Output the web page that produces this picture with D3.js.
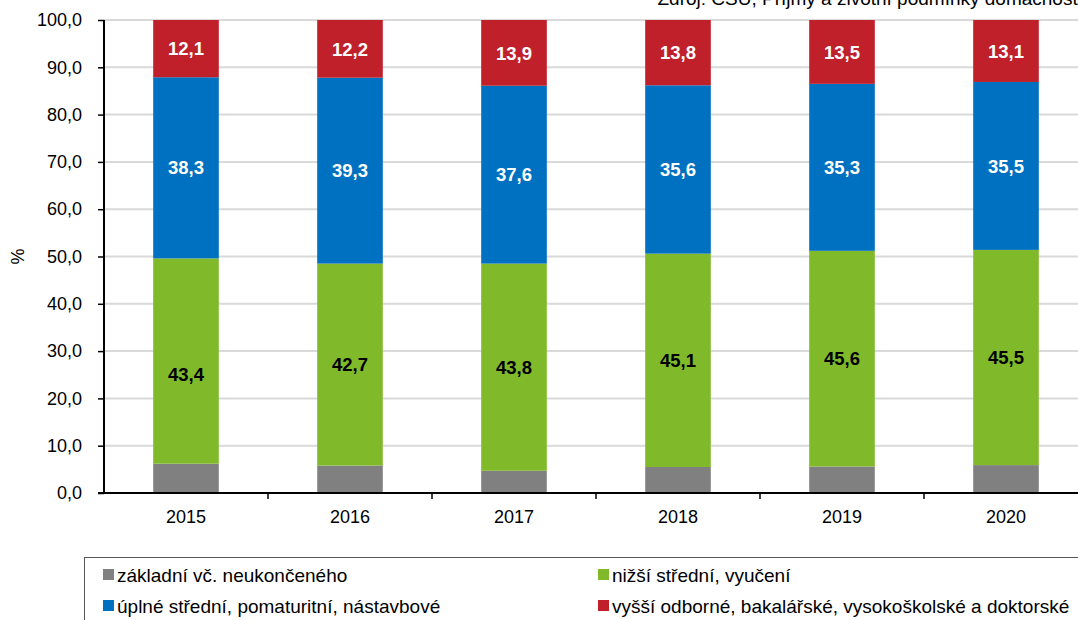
<!DOCTYPE html>
<html>
<head>
<meta charset="utf-8">
<script src="https://cdn.jsdelivr.net/npm/d3@7"></script>
<style>
  body { margin: 0; background: #fff; overflow: hidden; }
  text { font-family: "Liberation Sans", Arial, sans-serif; }
</style>
</head>
<body>
<div id="chart"></div>
<script>
var years = ["2015", "2016", "2017", "2018", "2019", "2020"];
var zakladni = [6.2, 5.8, 4.7, 5.5, 5.6, 5.9];
var nizsi = [43.4, 42.7, 43.8, 45.1, 45.6, 45.5];
var uplne = [38.3, 39.3, 37.6, 35.6, 35.3, 35.5];
var vyssi = [12.1, 12.2, 13.9, 13.8, 13.5, 13.1];
var seriesNames = ["základní vč. neukončeného", "nižší střední, vyučení",
  "úplné střední, pomaturitní, nástavbové", "vyšší odborné, bakalářské, vysokoškolské a doktorské"];
var yTicks = [0, 10, 20, 30, 40, 50, 60, 70, 80, 90, 100];

var width = 1078, height = 620,
    margin = {top: 20, left: 104, right: -10, bottom: 127};

var colors = ["#808080", "#80ba2a", "#0070c0", "#c0202a"];
var labelColors = [null, "#000", "#fff", "#fff"];
// label for 2015 green segment sits a bit lower in the original
var labelNudge = {"1-2015": 13};

var svg = d3.select("#chart").append("svg")
  .attr("width", width)
  .attr("height", height);

var x = d3.scaleBand()
  .domain(years)
  .range([margin.left, width - margin.right])
  .paddingInner(0.6)
  .paddingOuter(0.3);

var y = d3.scaleLinear()
  .domain([0, 100])
  .range([height - margin.bottom, margin.top]);

// gridlines
svg.append("g")
  .selectAll("line")
  .data(yTicks.slice(1))
  .enter().append("line")
  .attr("x1", margin.left)
  .attr("x2", width - margin.right)
  .attr("y1", d => y(d))
  .attr("y2", d => y(d))
  .style("stroke", "#d9d9d9")
  .style("stroke-width", 2);

// stacked data
var table = years.map(function(yr, i) {
  return {year: yr, s0: zakladni[i], s1: nizsi[i], s2: uplne[i], s3: vyssi[i]};
});
var stack = d3.stack().keys(["s0", "s1", "s2", "s3"])(table);

var layers = svg.selectAll(".layer")
  .data(stack)
  .enter().append("g")
  .attr("class", "layer")
  .style("fill", (d, i) => colors[i]);

layers.selectAll("rect")
  .data(d => d)
  .enter().append("rect")
  .attr("x", d => x(d.data.year))
  .attr("width", x.bandwidth())
  .attr("y", d => y(d[1]))
  .attr("height", d => y(d[0]) - y(d[1]));

// value labels
stack.forEach(function(layer, li) {
  if (!labelColors[li]) return;
  svg.append("g").selectAll("text")
    .data(layer)
    .enter().append("text")
    .attr("x", d => x(d.data.year) + x.bandwidth() / 2)
    .attr("y", d => y((d[0] + d[1]) / 2) + (labelNudge[li + "-" + d.data.year] || 0))
    .attr("dy", "0.36em")
    .attr("text-anchor", "middle")
    .style("font-size", "18.5px")
    .style("font-weight", "bold")
    .style("fill", labelColors[li])
    .text(d => d3.format(".1f")(d[1] - d[0]).replace(".", ","));
});

// y axis
var yAxis = svg.append("g")
  .attr("transform", "translate(" + margin.left + ",0)")
  .call(d3.axisLeft(y).tickValues(yTicks).tickSize(6).tickPadding(16)
    .tickFormat(d => d3.format(".1f")(d).replace(".", ",")));
yAxis.select(".domain").attr("d", "M0," + y(100) + "V" + y(0)).style("stroke-width", 2);
yAxis.selectAll(".tick line").style("stroke-width", 1.5);
yAxis.selectAll("text").style("font-size", "18px").style("fill", "#000")
  .attr("font-family", null);

// x axis
var xAxis = svg.append("g")
  .attr("transform", "translate(0," + y(0) + ")");
xAxis.append("line")
  .attr("x1", margin.left - 6)
  .attr("x2", width - margin.right)
  .style("stroke", "#000")
  .style("stroke-width", 2);
var step = x.step();
xAxis.selectAll(".xtick")
  .data(years.slice(1))
  .enter().append("line")
  .attr("x1", d => x(d) + x.bandwidth() / 2 - step / 2)
  .attr("x2", d => x(d) + x.bandwidth() / 2 - step / 2)
  .attr("y1", 0).attr("y2", 6)
  .style("stroke", "#000").style("stroke-width", 1.5);
xAxis.selectAll(".xlab")
  .data(years)
  .enter().append("text")
  .attr("x", d => x(d) + x.bandwidth() / 2)
  .attr("y", 30)
  .attr("text-anchor", "middle")
  .style("font-size", "18px")
  .text(d => d);

// y title
svg.append("text")
  .attr("transform", "translate(24," + y(50) + ") rotate(-90)")
  .attr("text-anchor", "middle")
  .style("font-size", "18px")
  .text("%");

// source
svg.append("text")
  .attr("x", 1083)
  .attr("y", 5)
  .attr("text-anchor", "end")
  .style("font-size", "19px")
  .text("Zdroj: ČSÚ, Příjmy a životní podmínky domácností");

// legend
svg.append("rect")
  .attr("x", 84.5).attr("y", 557.5)
  .attr("width", 1010).attr("height", 80)
  .style("fill", "none").style("stroke", "#555").style("stroke-width", 1);

var legendPos = [[103, 575], [598, 575], [103, 606], [598, 606]];
var legend = svg.selectAll(".legend")
  .data(seriesNames)
  .enter().append("g")
  .attr("transform", (d, i) => "translate(" + legendPos[i][0] + "," + legendPos[i][1] + ")");
legend.append("rect")
  .attr("x", 0).attr("y", -6)
  .attr("width", 11).attr("height", 11)
  .style("fill", (d, i) => colors[i]);
legend.append("text")
  .attr("x", 14).attr("dy", "0.35em")
  .style("font-size", "19px")
  .text(d => d);
</script>
</body>
</html>
